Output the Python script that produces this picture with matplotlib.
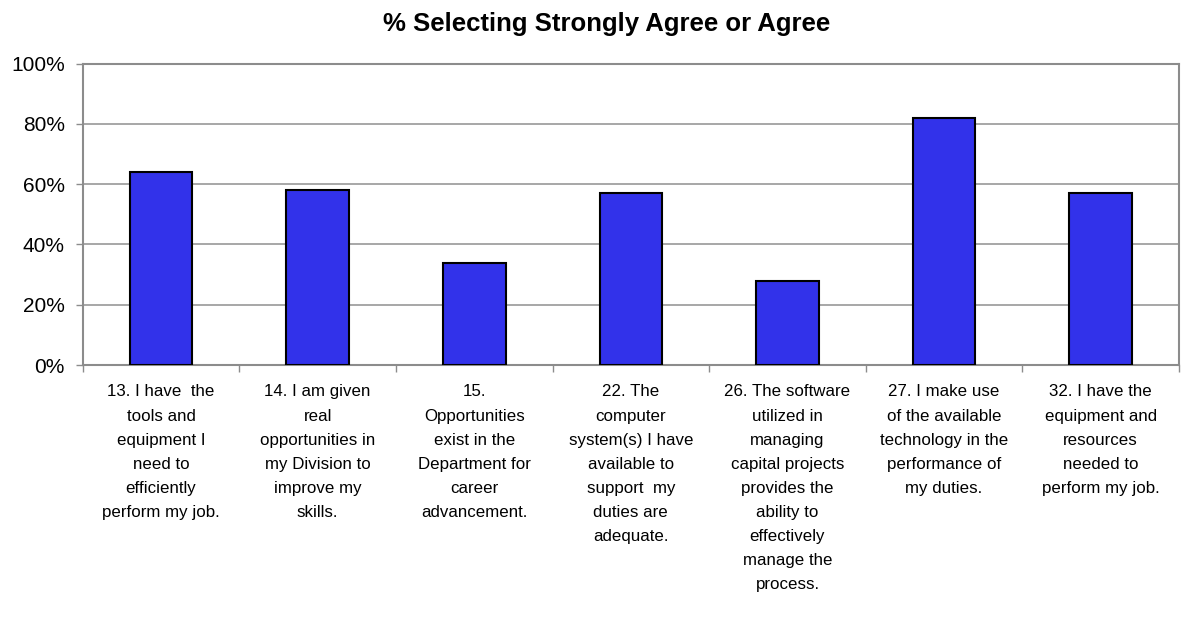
import numpy as np
import matplotlib
matplotlib.use("Agg")
import matplotlib.pyplot as plt
from matplotlib.ticker import FixedLocator, PercentFormatter

# Survey items and share answering "Strongly Agree" or "Agree"
items = [
    "13. I have  the\ntools and\nequipment I\nneed to\nefficiently\nperform my job.",
    "14. I am given\nreal\nopportunities in\nmy Division to\nimprove my\nskills.",
    "15.\nOpportunities\nexist in the\nDepartment for\ncareer\nadvancement.",
    "22. The\ncomputer\nsystem(s) I have\navailable to\nsupport  my\nduties are\nadequate.",
    "26. The software\nutilized in\nmanaging\ncapital projects\nprovides the\nability to\neffectively\nmanage the\nprocess.",
    "27. I make use\nof the available\ntechnology in the\nperformance of\nmy duties.",
    "32. I have the\nequipment and\nresources\nneeded to\nperform my job.",
]
pct_agree = [64, 58, 34, 57, 28, 82, 57]
y_ticks = [0, 20, 40, 60, 80, 100]

plt.rcParams["font.family"] = ["Liberation Sans", "DejaVu Sans"]

grid_col = "#a0a0a0"
bar_col = "#3232ea"

fig = plt.figure(figsize=(12.02, 6.43), dpi=100)
ax = fig.add_axes([0.0688, 0.4323, 0.9121, 0.4689])

x = np.arange(len(items))
ax.bar(x, pct_agree, width=0.4, color=bar_col, edgecolor="black", linewidth=1.5, zorder=3)

ax.set_xlim(-0.5, len(items) - 0.5)
ax.set_ylim(0, 100)
ax.yaxis.set_major_locator(FixedLocator(y_ticks))
ax.yaxis.set_major_formatter(PercentFormatter(decimals=0))
ax.grid(axis="y", color=grid_col, linewidth=1.3, zorder=0)

for side in ["left", "right", "top", "bottom"]:
    ax.spines[side].set_color("#8c8c8c")
    ax.spines[side].set_linewidth(1.5)

# category labels at the bar centres, boundary ticks between them
ax.set_xticks(x)
ax.set_xticklabels(items, fontsize=12.2, linespacing=1.76)
ax.tick_params(axis="x", which="major", length=0, pad=14)
ax.set_xticks(np.arange(len(items) + 1) - 0.5, minor=True)
ax.tick_params(axis="x", which="minor", length=5, width=1, color="#8c8c8c", direction="out")
ax.tick_params(axis="y", length=5, width=1, color="#8c8c8c", labelsize=15, pad=8)

fig.text(0.505, 0.963, "% Selecting Strongly Agree or Agree", ha="center", va="center",
         fontsize=18.5, fontweight="bold")

plt.savefig("out.png", dpi=100, facecolor="white")
plt.close("all")
